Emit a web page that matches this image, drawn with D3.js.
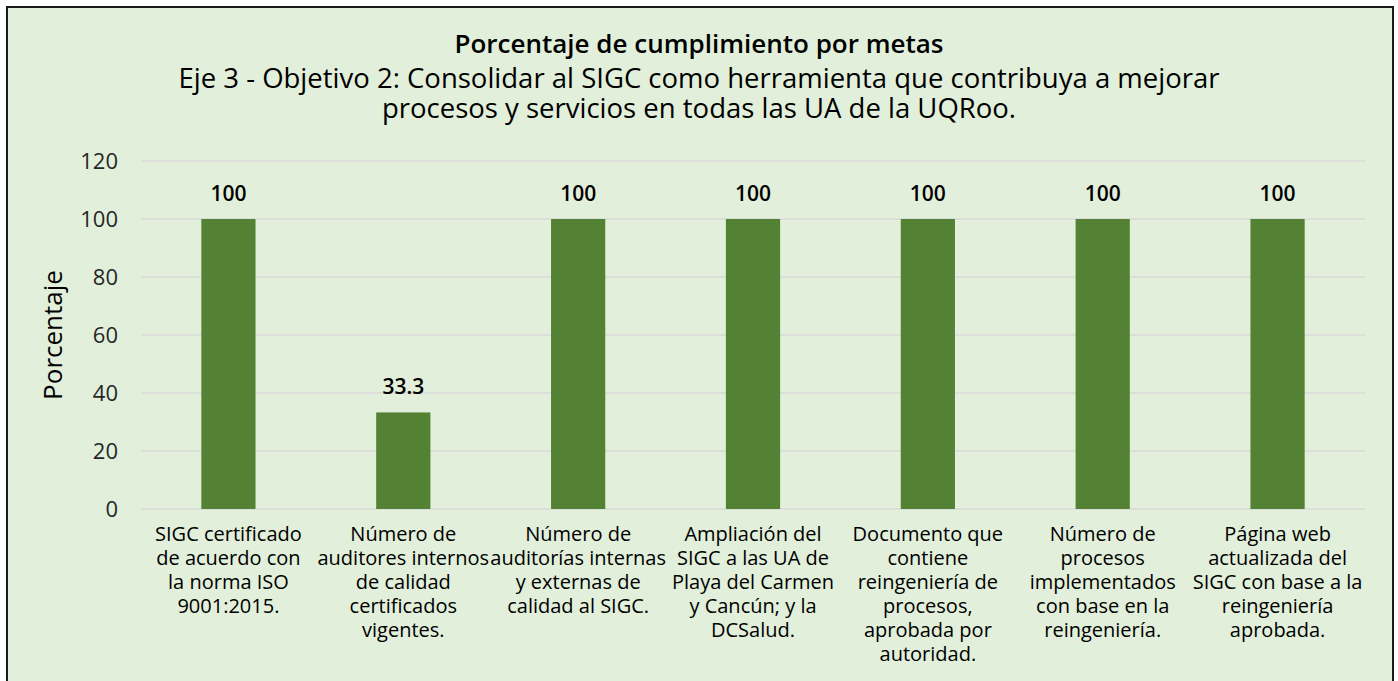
<!DOCTYPE html>
<html lang="es">
<head>
    <meta charset="UTF-8">
    <title>Porcentaje de cumplimiento por metas</title>
    <script src="https://d3js.org/d3.v7.min.js"></script>
    <style>
        body {
            margin: 0;
            background: #fff;
            font-family: 'Open Sans', sans-serif;
        }
    </style>
</head>
<body>
    <div id="chart"></div>

    <script>
        // Data
        const titleText = 'Porcentaje de cumplimiento por metas';
        const subtitleLines = [
            'Eje 3 - Objetivo 2: Consolidar al SIGC como herramienta que contribuya a mejorar',
            'procesos y servicios en todas las UA de la UQRoo.'
        ];
        const categories = [
            ['SIGC certificado', 'de acuerdo con', 'la norma ISO', '9001:2015.'],
            ['Número de', 'auditores internos', 'de calidad', 'certificados', 'vigentes.'],
            ['Número de', 'auditorías internas', 'y externas de', 'calidad al SIGC.'],
            ['Ampliación del', 'SIGC a las UA de', 'Playa del Carmen', 'y Cancún; y la', 'DCSalud.'],
            ['Documento que', 'contiene', 'reingeniería de', 'procesos,', 'aprobada por', 'autoridad.'],
            ['Número de', 'procesos', 'implementados', 'con base en la', 'reingeniería.'],
            ['Página web', 'actualizada del', 'SIGC con base a la', 'reingeniería', 'aprobada.']
        ];
        const values = [100, 33.3, 100, 100, 100, 100, 100];
        const yTicks = [0, 20, 40, 60, 80, 100, 120];
        const yLabel = 'Porcentaje';

        // Layout
        const W = 1398, H = 681;
        const margin = { top: 161, left: 141, right: 33, bottom: 172 };
        const innerW = W - margin.left - margin.right;
        const innerH = H - margin.top - margin.bottom;

        const svg = d3.select('#chart').append('svg')
            .attr('width', W)
            .attr('height', H);

        // Chart background + border
        svg.append('rect')
            .attr('x', 7).attr('y', 7)
            .attr('width', 1386).attr('height', 690)
            .attr('fill', '#e2efda')
            .attr('stroke', '#1a1a1a')
            .attr('stroke-width', 2);

        // Titles
        svg.append('text')
            .attr('x', 699).attr('y', 53)
            .attr('text-anchor', 'middle')
            .style('font-size', '26px')
            .style('font-weight', 600)
            .attr('fill', '#000')
            .text(titleText);

        svg.selectAll('.subtitle')
            .data(subtitleLines)
            .enter().append('text')
            .attr('class', 'subtitle')
            .attr('x', 699)
            .attr('y', (d, i) => 88 + i * 30)
            .attr('text-anchor', 'middle')
            .style('font-size', '27.5px')
            .attr('fill', '#000')
            .text(d => d);

        const g = svg.append('g')
            .attr('transform', `translate(${margin.left},${margin.top})`);

        // Scales
        const x = d3.scaleBand()
            .domain(d3.range(categories.length))
            .range([0, innerW])
            .paddingInner(0.69)
            .paddingOuter(0.345);

        const y = d3.scaleLinear()
            .domain([0, 120])
            .range([innerH, 0]);

        // Gridlines
        g.selectAll('.grid')
            .data(yTicks)
            .enter().append('line')
            .attr('x1', 0).attr('x2', innerW)
            .attr('y1', d => y(d)).attr('y2', d => y(d))
            .attr('stroke', '#d9d9d9')
            .attr('stroke-width', 1.5);

        // Y axis
        const yAxis = g.append('g')
            .call(d3.axisLeft(y).tickValues(yTicks).tickSize(0).tickPadding(23));
        yAxis.select('.domain').remove();
        yAxis.selectAll('text')
            .style('font-family', "'Open Sans', sans-serif")
            .style('font-size', '22px')
            .attr('fill', '#262626');

        // Y label
        svg.append('text')
            .attr('transform', `translate(62,${margin.top + innerH / 2}) rotate(-90)`)
            .attr('text-anchor', 'middle')
            .style('font-size', '26px')
            .attr('fill', '#000')
            .text(yLabel);

        // Bars
        g.selectAll('.bar')
            .data(values)
            .enter().append('rect')
            .attr('class', 'bar')
            .attr('x', (d, i) => x(i))
            .attr('y', d => y(d))
            .attr('width', x.bandwidth())
            .attr('height', d => innerH - y(d))
            .attr('fill', '#548235');

        // Value labels
        g.selectAll('.val')
            .data(values)
            .enter().append('text')
            .attr('class', 'val')
            .attr('x', (d, i) => x(i) + x.bandwidth() / 2)
            .attr('y', d => y(d) - 18)
            .attr('text-anchor', 'middle')
            .style('font-size', '21px')
            .style('font-weight', 600)
            .attr('fill', '#000')
            .text(d => d);

        // Category labels
        const catG = g.selectAll('.cat')
            .data(categories)
            .enter().append('text')
            .attr('class', 'cat')
            .attr('text-anchor', 'middle')
            .attr('transform', (d, i) => `translate(${x(i) + x.bandwidth() / 2},${innerH + 32})`)
            .style('font-size', '20px')
            .attr('fill', '#000');

        catG.selectAll('tspan')
            .data(d => d)
            .enter().append('tspan')
            .attr('x', 0)
            .attr('y', (d, i) => i * 24)
            .text(d => d);
    </script>
</body>
</html>
